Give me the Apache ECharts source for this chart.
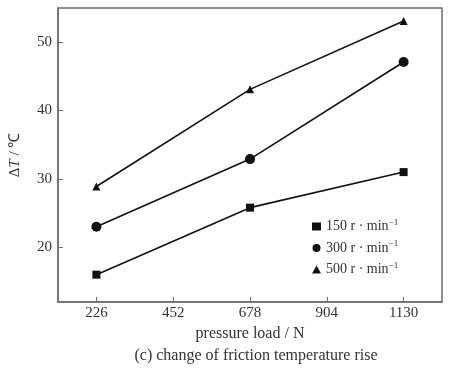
<!DOCTYPE html>
<html><head><meta charset="utf-8">
<script src="https://cdn.jsdelivr.net/npm/echarts@6/dist/echarts.min.js"></script>
<style>html,body{margin:0;padding:0;background:#fff}#c{width:453px;height:372px}</style>
</head><body><div id="c"></div>
<script>
const loads = [226, 678, 1130];
const xTicks = [226, 452, 678, 904, 1130];
const yTicks = [20, 30, 40, 50];
const seriesNames = ['150', '300', '500'];
const s150 = [16.0, 25.8, 31.0];
const s300 = [23.0, 32.9, 47.1];
const s500 = [28.9, 43.1, 53.1];
const symbols = ['rect', 'circle', 'triangle'];
const symbolSizes = [8, 10, 8];
const values = [s150, s300, s500];

const font = 'Liberation Serif';
const axisColor = '#6e6e6e';
const txt = '#333';
const chart = echarts.init(document.getElementById('c'));
chart.setOption({
  animation: false,
  backgroundColor: '#fff',
  grid: { left: 58, top: 8, right: 11, bottom: 70, outerBoundsMode: 'none', containLabel: false, show: true, borderColor: axisColor, borderWidth: 1.5 },
  xAxis: {
    type: 'value', min: 113, max: 1243,
    axisLine: { show: true, lineStyle: { color: axisColor, width: 1.5 } },
    axisTick: { show: true, inside: true, length: 5, customValues: xTicks, lineStyle: { color: axisColor } },
    axisLabel: { customValues: xTicks, formatter: v => String(v), color: txt, fontFamily: font, fontSize: 15, margin: 4 },
    splitLine: { show: false },
    name: 'pressure load / N', nameLocation: 'middle', nameGap: 23,
    nameTextStyle: { color: txt, fontFamily: font, fontSize: 16 }
  },
  yAxis: {
    type: 'value', min: 12, max: 55,
    axisLine: { show: true, lineStyle: { color: axisColor, width: 1.5 } },
    axisTick: { show: true, inside: true, length: 5, customValues: yTicks, lineStyle: { color: axisColor } },
    axisLabel: { customValues: yTicks, color: txt, fontFamily: font, fontSize: 15, margin: 6 },
    splitLine: { show: false },
    name: '{b|Δ}{a|T}{b| / ℃}', nameLocation: 'middle', nameGap: 35,
    nameTextStyle: { color: txt, fontFamily: font, fontSize: 15,
      rich: { a: { fontFamily: font, fontSize: 15, fontStyle: 'italic', color: txt }, b: { fontFamily: font, fontSize: 15, color: txt } } }
  },
  title: {
    text: '(c) change of friction temperature rise', left: 251, textAlign: 'center', top: 343,
    textStyle: { fontFamily: font, fontSize: 16, fontWeight: 'normal', color: txt }
  },
  legend: {
    orient: 'vertical', left: 307, top: 213, itemGap: 6, itemWidth: 9, itemHeight: 8,
    data: seriesNames.map((n, i) => ({ name: n, icon: symbols[i] })),
    formatter: n => '{t|' + n + ' r · min}{s|−1}',
    textStyle: { fontFamily: font, fontSize: 14, color: txt,
      rich: { t: { fontFamily: font, fontSize: 14, color: txt }, s: { fontFamily: font, fontSize: 9, color: txt, verticalAlign: 'top', padding: [0,0,8,0] } } }
  },
  series: seriesNames.map((n, i) => ({
    name: n, type: 'line',
    data: loads.map((x, j) => [x, values[i][j]]),
    symbol: symbols[i], symbolSize: symbolSizes[i],
    itemStyle: { color: '#111' },
    lineStyle: { color: '#111', width: 1.6 }
  }))
});
</script></body></html>
